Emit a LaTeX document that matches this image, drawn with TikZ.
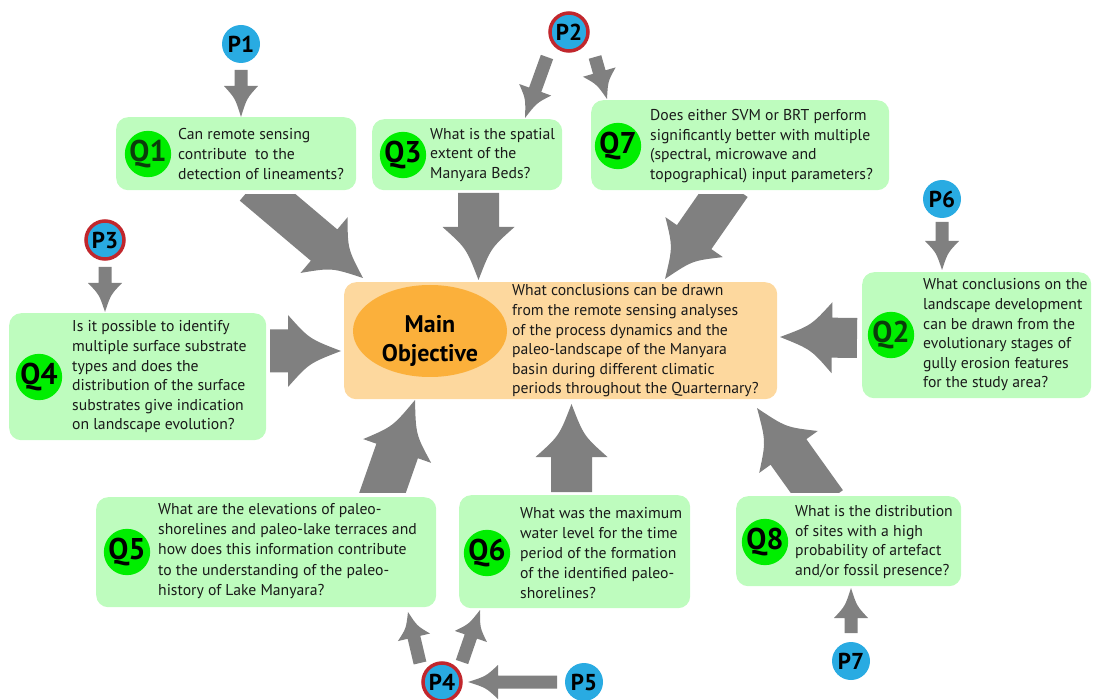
\documentclass[tikz,border=0pt]{standalone}
\usepackage{fontspec}
\setmainfont{PT Sans}
\usetikzlibrary{calc,shapes.geometric}
\definecolor{boxgreen}{HTML}{BEFCBE}
\definecolor{qgreen}{HTML}{00EE00}
\definecolor{pblue}{HTML}{29ABE2}
\definecolor{pborder}{HTML}{C1272D}
\definecolor{mainfill}{HTML}{FDD89E}
\definecolor{ellfill}{HTML}{FBB03B}
\definecolor{arrgray}{HTML}{808080}
\definecolor{qdark}{HTML}{0B3D0B}
\definecolor{txt}{HTML}{1A1A1A}
\newcommand\blockarrow[5]{%
  \path (#1); \pgfgetlastxy{\bax}{\bay}%
  \path (#2); \pgfgetlastxy{\bbx}{\bby}%
  \pgfmathsetmacro\bang{atan2(\bby-\bay,\bbx-\bax)}%
  \pgfmathsetmacro\blen{veclen(\bbx-\bax,\bby-\bay)}%
  \pgfmathsetmacro\bhb{\blen-#5}%
  \fill[arrgray,shift={(#1)},rotate=\bang] (0,-#3/2) -- (\bhb,-#3/2) -- (\bhb,-#4/2)
    .. controls ({\bhb+0.4*#5},{-0.17*#4}) .. (\blen,0)
    .. controls ({\bhb+0.4*#5},{0.17*#4}) .. (\bhb,#4/2) -- (\bhb,#3/2) -- (0,#3/2) -- cycle;}
\begin{document}
\begin{tikzpicture}[x=1pt,y=-1pt,
  qbox/.style={fill=boxgreen, rounded corners=12pt, anchor=north west, inner sep=0pt},
  mainbox/.style={fill=mainfill, rounded corners=12pt, anchor=north west, inner sep=0pt},
  qcirc/.style={circle, fill=qgreen, minimum size=46pt, inner sep=0pt, font=\bfseries\fontsize{30}{30}\selectfont},
  pcirc/.style={circle, fill=pblue, minimum size=38pt, inner sep=0pt, font=\bfseries\fontsize{23}{23}\selectfont},
  predc/.style={pcirc, draw=pborder, line width=3.5pt},
  qtext/.style={anchor=west, align=left, inner sep=0pt, text=txt, font=\fontsize{15.7}{19.6}\selectfont}]
\useasboundingbox (0,0) rectangle (1095,700);

% boxes
\node[qbox, minimum width=240pt, minimum height=73pt] (q1box) at (116,117) {};
\node[qbox, minimum width=190pt, minimum height=71pt] (q3box) at (372,119) {};
\node[qbox, minimum width=298pt, minimum height=90pt] (q7box) at (591,100) {};
\node[qbox, minimum width=257pt, minimum height=127pt] (q4box) at (9,313) {};
\node[mainbox, minimum width=433pt, minimum height=117pt] (mainbox) at (344,282) {};
\node[qbox, minimum width=229pt, minimum height=126pt] (q2box) at (862,272) {};
\node[qbox, minimum width=340pt, minimum height=110pt] (q5box) at (96,497) {};
\node[qbox, minimum width=231pt, minimum height=113pt] (q6box) at (459,495) {};
\node[qbox, minimum width=225pt, minimum height=90pt] (q8box) at (736,496) {};

% Q circles
\node[qcirc, text=qdark] (q1) at (148,154) {Q1};
\node[qcirc] (q3) at (403,155) {Q3};
\node[qcirc] (q7) at (618,146) {Q7};
\node[qcirc] (q4) at (39,377) {Q4};
\node[qcirc, text=qdark] (q2) at (891,335) {Q2};
\node[qcirc] (q5) at (127,552) {Q5};
\node[qcirc] (q6) at (487,553) {Q6};
\node[qcirc] (q8) at (765,542) {Q8};

% texts
\node[qtext] (t1) at (178,154) {Can remote sensing\\contribute\ \ to the\\detection of lineaments?};
\node[qtext] (t3) at (430,155) {What is the spatial\\extent of the\\Manyara Beds?};
\node[qtext] (t7) at (650,146) {Does either SVM or BRT perform\\significantly better with multiple\\(spectral, microwave and\\topographical) input parameters?};
\node[qtext] (t4) at (72,377) {Is it possible to identify\\multiple surface substrate\\types and does the\\distribution of the surface\\substrates give indication\\on landscape evolution?};
\node[qtext] (tm) at (512,341) {What conclusions can be drawn\\from the remote sensing analyses\\of the process dynamics and the\\paleo-landscape of the Manyara\\basin during different climatic\\periods throughout the Quarternary?};
\node[qtext] (t2) at (923,335) {What conclusions on the\\landscape development\\can be drawn from the\\evolutionary stages of\\gully erosion features\\for the study area?};
\node[qtext, font=\fontsize{15.7}{20.4}\selectfont] (t5) at (158,551) {What are the elevations of paleo-\\shorelines and paleo-lake terraces and\\how does this information contribute\\to the understanding of the paleo-\\history of Lake Manyara?};
\node[qtext, font=\fontsize{15.7}{20}\selectfont] (t6) at (520,553) {What was the maximum\\water level for the time\\period of the formation\\of the identified paleo-\\shorelines?};
\node[qtext] (t8) at (795,542) {What is the distribution\\of sites with a high\\probability of artefact\\and/or fossil presence?};

% main objective
\node[ellipse, fill=ellfill, minimum width=154pt, minimum height=92pt, inner sep=0pt] (mainell) at (430,331) {};
\node[align=center, inner sep=0pt, font=\bfseries\fontsize{24}{29}\selectfont] (maintitle) at (430,341) {Main\\Objective};

% P circles
\node[pcirc] (p1) at (241,44) {P1};
\node[predc] (p2) at (569,32) {P2};
\node[predc] (p3) at (105,240) {P3};
\node[predc] (p4) at (442,682) {P4};
\node[pcirc] (p5) at (584,682) {P5};
\node[pcirc] (p6) at (942,199) {P6};
\node[pcirc] (p7) at (851,661) {P7};

% arrow end points
\coordinate (p1s) at (241,70);  \coordinate (q1e) at (241,117);
\coordinate (p2s) at (547,57);  \coordinate (q3e) at (525,118);
\coordinate (p2t) at (595,57);  \coordinate (q7e) at (607,99);
\coordinate (p3s) at (105,267); \coordinate (q4e) at (105,312);
\coordinate (p6s) at (942,222); \coordinate (q2e) at (942,270);
\coordinate (p7s) at (851,633); \coordinate (q8e) at (851,588);
\coordinate (p4s) at (420,663); \coordinate (q5e) at (408,612);
\coordinate (p4t) at (462,662); \coordinate (q6e) at (480,610);
\coordinate (p5s) at (557,682); \coordinate (p4e) at (468,682);
\coordinate (q1s) at (253,185); \coordinate (m1e) at (363,278);
\coordinate (q3s) at (478.5,193); \coordinate (m3e) at (478.5,280);
\coordinate (q7s) at (730.4,185); \coordinate (m7e) at (665,279);
\coordinate (q4s) at (270,351); \coordinate (m4e) at (341,351);
\coordinate (q2s) at (857,338); \coordinate (m2e) at (780,337);
\coordinate (q5s) at (380,500); \coordinate (m5e) at (415,400);
\coordinate (q6s) at (571.5,492); \coordinate (m6e) at (571.5,404);
\coordinate (q8s) at (825,503); \coordinate (m8e) at (757,408);

% small arrows
\blockarrow{p1s}{q1e}{13}{34}{31}
\blockarrow{p2s}{q3e}{13}{34}{30}
\blockarrow{p2t}{q7e}{13}{34}{28}
\blockarrow{p3s}{q4e}{13}{34}{29}
\blockarrow{p6s}{q2e}{13}{34}{29}
\blockarrow{p7s}{q8e}{13}{34}{30}
\blockarrow{p4s}{q5e}{13}{33}{26}
\blockarrow{p4t}{q6e}{13}{34}{28}
\blockarrow{p5s}{p4e}{13}{34}{30}

% big arrows
\begin{scope}
\clip (0,195) rectangle (1095,700);
\blockarrow{q1s}{m1e}{41}{73}{51}
\blockarrow{q7s}{m7e}{42}{70}{51}
\end{scope}
\blockarrow{q3s}{m3e}{41}{72}{53}
\blockarrow{q4s}{m4e}{43}{72}{53}
\blockarrow{q2s}{m2e}{40}{71}{52}
\blockarrow{q6s}{m6e}{41}{72}{53}
\begin{scope}
\clip (0,0) rectangle (1095,492);
\blockarrow{q5s}{m5e}{44}{72}{54}
\blockarrow{q8s}{m8e}{44}{72}{54}
\end{scope}
\end{tikzpicture}
\end{document}
